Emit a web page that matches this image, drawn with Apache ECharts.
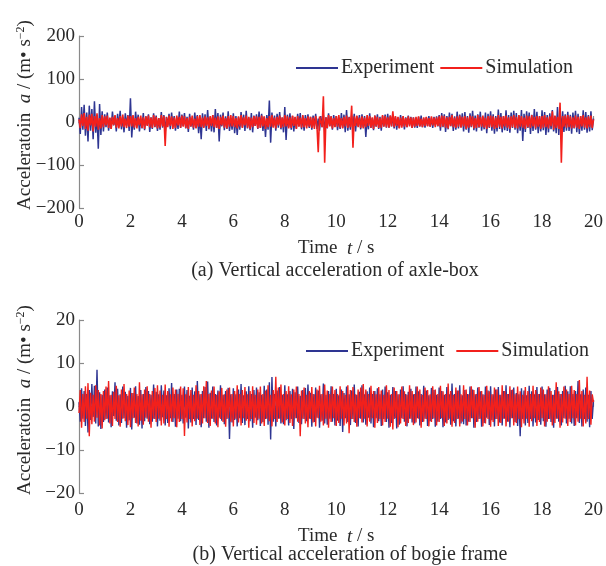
<!DOCTYPE html>
<html>
<head>
<meta charset="utf-8">
<script src="https://cdn.jsdelivr.net/npm/echarts@6/dist/echarts.min.js"></script>
<style>
  html, body { margin: 0; padding: 0; background: #fff; }
  #chart { width: 606px; height: 566px; }
</style>
</head>
<body>
<div id="chart"></div>
<script>
// Sample step of the recorded signals (s)
const STEP = 0.05;

// Axle-box vertical acceleration (m/s^2), one row per second
const axleExperiment = [
  10,-28,35,-18,40,-32,22,-45,38,-20,30,-40,48,-25,15,-62,42,-30,25,-22,
  18,-12,22,-20,9,-16,24,-8,14,-22,19,-11,26,-17,12,-24,20,-9,16,-21,
  55,-36,12,-18,24,-10,17,-22,8,-15,21,-19,13,-7,18,-23,11,-16,20,-12,
  15,-21,9,-18,23,-13,16,-25,12,-8,19,-17,22,-11,14,-20,10,-16,24,-14,
  17,-9,21,-15,12,-23,19,-11,8,-18,22,-14,16,-26,13,-40,20,-12,18,-21,
  28,-17,11,-22,16,-24,30,-13,21,-45,17,-10,22,-19,13,-16,25,-21,9,-18,
  20,-26,14,-30,11,-18,23,-12,17,-21,26,-15,10,-19,21,-24,15,-9,18,-16,
  24,-14,19,-21,12,-35,16,-18,50,-48,22,-11,15,-20,19,-13,23,-17,10,-24,
  35,-42,17,-12,20,-18,14,-22,11,-15,19,-10,21,-17,13,-20,16,-9,18,-14,
  12,-18,15,-10,19,-16,8,-20,14,-12,17,-22,11,-15,20,-9,13,-18,16,-11,
  14,-19,10,-16,21,-13,17,-24,28,-20,12,-18,15,-11,19,-22,13,-9,16,-17,
  18,-12,14,-35,11,-17,20,-14,9,-19,15,-11,18,-16,12,-20,14,-10,17,-13,
  19,-13,15,-10,17,-15,12,-18,10,-14,16,-9,13,-17,11,-12,15,-8,12,-14,
  11,-13,9,-14,12,-10,15,-12,8,-13,11,-9,14,-11,10,-14,12,-8,13,-10,
  16,-20,21,-12,18,-23,14,-17,22,-10,19,-21,13,-18,24,-15,17,-12,20,-22,
  23,-18,14,-25,20,-12,26,-19,15,-22,18,-13,24,-20,11,-17,22,-26,19,-14,
  25,-20,18,-27,14,-22,29,-16,21,-24,13,-19,27,-21,16,-25,22,-14,26,-18,
  21,-26,15,-20,28,-44,19,-23,25,-14,22,-28,17,-21,30,-18,24,-26,14,-22,
  27,-19,23,-30,16,-24,20,-17,28,-22,14,-26,35,-30,21,-16,25,-23,18,-20,
  24,-21,17,-27,22,-15,26,-24,19,-28,14,-20,27,-18,23,-25,16,-22,25,-19,
  8
];
const axleSimulation = [
  6,-14,18,-9,21,-16,12,-20,17,-8,19,-22,14,-11,20,-18,9,-15,16,-12,
  13,-8,15,-14,10,-16,12,-7,16,-13,9,-15,14,-10,17,-12,8,-14,15,-11,
  14,-10,16,-13,9,-15,12,-8,15,-14,11,-16,13,-9,15,-12,10,-14,16,-11,
  12,-15,9,-13,16,-10,14,-56,11,-12,15,-9,13,-16,10,-14,15,-8,12,-13,
  15,-11,13,-14,9,-16,12,-10,15,-13,8,-15,14,-11,16,-12,10,-14,13,-9,
  11,-15,14,-9,16,-12,10,-14,13,-16,12,-8,15,-13,9,-15,14,-11,16,-10,
  14,-12,9,-15,13,-10,16,-14,11,-8,15,-13,12,-16,10,-12,14,-9,13,-15,
  12,-14,15,-10,13,-16,9,-12,14,-11,16,-13,10,-15,12,-8,15,-14,11,-12,
  16,-10,13,-15,11,-14,15,-9,12,-16,14,-11,10,-13,16,-12,9,-15,13,-11,
  12,-14,10,-16,14,-9,-70,13,15,-12,60,-95,11,-14,16,-10,13,-15,9,-12,
  14,-11,16,-13,9,-15,12,-10,15,-14,11,-12,38,-60,13,-9,15,-12,10,-14,
  13,-15,10,-12,16,-9,14,-13,11,-16,15,-10,12,-14,9,-13,16,-11,14,-12,
  11,-13,15,-10,25,-12,14,-9,12,-15,10,-13,14,-11,9,-12,13,-10,11,-14,
  10,-11,12,-9,13,-10,8,-12,11,-9,12,-10,9,-11,13,-8,10,-12,11,-9,
  13,-12,15,-10,14,-13,11,-15,12,-9,16,-12,10,-14,13,-11,15,-13,12,-10,
  14,-16,11,-13,15,-10,13,-15,9,-14,16,-12,12,-11,15,-13,10,-16,14,-12,
  15,-12,13,-16,10,-14,16,-11,12,-15,14,-10,15,-13,11,-16,13,-12,16,-14,
  12,-15,16,-11,14,-13,10,-16,15,-12,13,-14,16,-10,12,-15,14,-11,13,-16,
  14,-13,16,-12,11,-15,13,-10,25,-18,15,-14,12,-16,45,-95,14,-11,15,-13,
  16,-12,13,-15,11,-14,15,-13,12,-16,14,-10,16,-13,11,-15,13,-12,15,-14,
  6
];

// Bogie frame vertical acceleration (m/s^2), one row per second
const bogieExperiment = [
  1,-3.5,4.2,-2.8,3.6,-4.5,2.9,-6,3.8,-3.1,5.2,-2.4,4.8,-3.9,8.5,-4.6,3.3,-5.2,2.7,-3.6,
  3.9,-2.9,4.4,-3.7,2.6,-4.8,3.5,-2.2,5.6,-3.3,4.1,-4.4,2.8,-3.8,4.6,-2.7,3.4,-4.9,2.5,-3.2,
  4.3,-5.3,3.1,-2.6,4.7,-3.9,2.4,-4.2,3.8,-5.1,2.9,-3.4,4.5,-2.8,3.6,-4.1,2.7,-3.5,5.1,-2.9,
  3.4,-4.6,2.8,-3.3,4.9,-2.5,3.7,-4.4,2.6,-3.8,4.2,-2.7,5.4,-3.6,2.9,-4.7,3.9,-2.8,4.1,-3.4,
  2.7,-3.9,4.6,-2.6,3.8,-5.1,2.5,-3.7,4.4,-2.9,3.5,-4.3,5.9,-3.1,2.8,-4.8,3.6,-2.7,4.5,-3.5,
  5.8,-4.9,3.2,-2.8,4.6,-3.6,2.9,-4.4,3.7,-2.6,4.9,-3.3,2.7,-4.1,3.6,-2.9,4.3,-7.5,2.8,-3.7,
  4.2,-3.1,2.8,-4.6,3.9,-2.7,5.2,-3.8,2.6,-4.3,3.5,-2.9,4.7,-3.4,2.9,-4.9,3.8,-2.6,4.4,-3.2,
  3.3,-4.5,2.7,-3.6,4.8,-2.9,3.9,-4.2,5.6,-7.6,6.8,-3.5,2.9,-4.6,3.7,-2.8,4.5,-3.9,2.7,-4.1,
  4.9,-3.2,2.8,-4.4,3.6,-2.9,4.1,-5.2,3.3,-2.7,4.6,-3.8,2.5,-4.1,3.8,-2.9,4.3,-3.4,5.1,-2.8,
  3.2,-4.7,2.9,-3.6,4.4,-2.6,3.7,-4.9,2.8,-3.3,5.3,-3.9,2.7,-4.2,3.6,-2.8,4.7,-3.5,2.9,-4.4,
  4.1,-3.3,2.6,-4.5,3.9,-5.9,3.1,-2.7,4.6,-3.6,2.8,-4.3,3.7,-2.9,5.1,-3.8,2.7,-4.6,3.4,-2.8,
  4.9,-3.7,2.8,-4.2,3.5,-2.6,4.4,-3.9,2.9,-4.8,3.6,-2.7,4.2,-3.4,2.8,-4.5,3.9,-2.9,4.6,-3.6,
  3.3,-4.9,2.7,-3.8,4.5,-2.9,3.6,-5.1,2.8,-4.2,3.9,-2.7,4.7,-3.5,2.9,-4.6,3.4,-2.8,4.1,-3.7,
  2.8,-3.9,4.6,-2.7,3.5,-4.4,2.9,-3.6,4.8,-2.8,3.7,-4.5,2.6,-3.4,4.3,-2.9,3.8,-4.7,2.7,-3.5,
  4.4,-2.9,3.6,-4.8,2.7,-3.7,4.5,-3.1,2.8,-4.2,5.3,-3.4,2.9,-4.6,3.7,-2.8,4.9,-3.9,2.6,-4.1,
  3.8,-4.4,2.9,-3.5,4.6,-2.7,3.9,-4.9,2.8,-3.6,4.4,-2.9,3.5,-4.7,2.8,-3.8,4.6,-2.6,3.7,-4.3,
  4.7,-3.2,2.8,-4.6,3.9,-2.9,4.5,-3.7,2.7,-4.4,3.6,-2.8,4.9,-3.5,2.9,-4.8,3.8,-2.7,4.4,-3.6,
  3.1,-4.5,2.8,-6.9,4.2,-2.9,3.7,-4.4,2.6,-3.8,4.8,-2.9,3.5,-4.6,2.8,-3.7,4.5,-3.1,2.9,-4.2,
  4.6,-3.4,2.8,-4.7,3.9,-2.9,4.3,-3.6,2.7,-4.9,3.8,-2.8,4.5,-3.5,2.9,-4.4,3.6,-2.7,4.8,-3.9,
  3.5,-2.8,4.7,-3.9,2.9,-4.5,3.6,-2.7,5.9,-3.8,2.8,-4.6,3.9,-2.9,4.4,-3.5,2.7,-4.8,3.6,-2.9,
  1.5
];
const bogieSimulation = [
  -1.5,3.8,-4.9,2.9,-3.6,4.7,-2.8,5.4,-6.9,3.2,-4.1,2.7,-3.5,4.9,-2.6,3.8,-4.4,2.9,-5.1,3.6,
  -3.2,4.6,-2.8,5.9,-3.9,2.7,-4.5,3.4,-2.9,4.8,-3.6,2.6,-4.7,3.9,-2.8,5.2,-3.4,2.9,-4.3,3.7,
  -4.8,3.1,-2.7,4.4,-3.8,2.9,-4.6,5.6,-3.3,2.8,-4.2,3.9,-2.6,4.7,-3.5,2.9,-4.9,3.6,-2.8,4.3,
  -3.6,4.9,-2.8,3.7,-4.4,2.7,-3.9,5.1,-2.9,3.6,-4.7,2.8,-3.5,4.4,-2.7,3.9,-4.8,2.9,-3.6,4.6,
  -2.9,4.2,-6.8,2.8,-3.7,4.5,-2.9,3.8,-4.6,2.7,-3.4,4.9,-2.8,3.6,-4.3,2.9,-3.9,4.7,-2.7,5.9,
  -3.8,2.9,-4.5,3.7,-2.8,4.6,-3.9,2.7,-4.8,3.5,-2.9,4.3,-3.6,2.8,-4.7,3.9,-2.7,4.4,-3.5,2.9,
  -4.6,3.6,-2.8,4.9,-3.7,2.9,-4.4,3.8,-2.7,4.5,-3.3,2.8,-4.9,3.6,-2.9,4.7,-3.8,2.7,-4.2,3.9,
  -2.8,4.6,-3.9,2.9,-4.5,3.7,-2.8,4.9,-3.4,2.7,-4.6,3.8,-2.9,6.9,-3.6,4.4,-2.8,5.1,-3.7,2.9,
  -4.4,3.6,-2.9,4.7,-3.8,2.8,-4.5,3.9,-2.7,4.6,-3.5,2.9,-6.9,3.7,-2.8,4.4,-3.9,2.7,-4.8,3.6,
  -2.9,4.5,-3.7,2.8,-4.6,3.9,-2.7,4.8,-3.5,2.9,-4.4,5.1,-2.8,3.7,-4.9,2.9,-3.6,4.6,-2.7,3.8,
  -4.5,2.9,-3.8,4.7,-2.8,3.6,-4.4,2.7,-3.9,4.9,-6.2,3.8,-2.9,4.5,-3.6,2.8,-4.7,3.9,-2.7,4.4,
  -3.7,5.2,-2.8,3.9,-4.6,2.9,-3.5,4.8,-2.7,3.6,-4.9,2.8,-3.8,4.5,-2.9,3.7,-4.4,2.7,-3.6,4.9,
  -2.8,3.8,-4.7,2.9,-5.3,4.4,-2.7,3.6,-4.8,2.8,-3.9,4.6,-2.9,3.5,-4.5,2.7,-3.8,4.9,-2.8,3.6,
  -4.3,2.9,-3.7,4.6,-2.8,3.9,-4.9,2.7,-3.5,4.4,-2.9,3.8,-4.6,2.8,-3.6,4.7,-2.7,3.9,-4.4,2.9,
  -3.6,4.8,-2.7,3.5,-4.5,2.9,-3.9,5.3,-2.8,3.6,-4.7,2.7,-3.8,4.4,-2.9,3.7,-4.6,2.8,-3.5,4.9,
  -2.9,3.9,-4.4,2.8,-3.6,4.7,-2.7,3.8,-4.9,2.9,-3.5,4.5,-2.8,3.6,-4.6,2.7,-3.9,4.8,-2.9,3.5,
  -4.7,2.8,-3.6,4.4,-2.9,3.9,-4.5,2.7,-3.8,4.9,-2.8,3.6,-4.6,2.9,-3.5,4.7,-2.7,3.9,-4.4,2.8,
  -3.8,4.6,-2.9,3.5,-4.8,2.7,-3.9,4.5,-2.8,3.6,-4.7,2.9,-3.4,4.8,-2.7,3.8,-4.5,2.9,-3.6,4.4,
  -2.7,3.9,-4.6,2.8,-3.5,4.7,-2.9,3.6,-4.4,2.7,-3.8,5.6,-2.8,3.5,-4.9,2.9,-3.7,4.6,-2.8,3.9,
  -4.5,2.9,-3.6,4.8,-2.7,3.8,-4.4,2.9,-3.5,6.1,-2.8,3.6,-4.6,2.7,-3.9,6.9,-2.9,3.7,-4.2,2.8,
  1
];

// Axis ticks
const timeTicks = { min: 0, max: 20, interval: 2 };
const axleTicks = { min: -200, max: 200, interval: 100 };
const bogieTicks = { min: -20, max: 20, interval: 10 };

const seriesNames = ['Experiment', 'Simulation'];
const captions = ['(a) Vertical acceleration of axle-box', '(b) Vertical acceleration of bogie frame'];

const FONT = "'Liberation Serif', 'Times New Roman', serif";
const BLUE = '#2e3592';
const RED = '#f2201c';
const AXIS = '#8a8a8a';
const TEXT = '#2a2a2a';

function pairs(values) {
  return values.map((v, i) => [+(i * STEP).toFixed(2), v]);
}
const minus = v => String(v).replace('-', '\u2212');

function xAxisFor(gridIndex, margin) {
  return {
    type: 'value', gridIndex,
    min: timeTicks.min, max: timeTicks.max, interval: timeTicks.interval,
    axisLine: { show: true, lineStyle: { color: AXIS, width: 1.2 } },
    axisTick: { show: true, inside: true, length: 6, lineStyle: { color: AXIS, width: 1.2 } },
    axisLabel: { color: TEXT, fontFamily: FONT, fontSize: 19, margin, formatter: minus },
    splitLine: { show: false },
    name: '{n|Time  }{i|t}{n| / s}',
    nameLocation: 'middle', nameGap: margin + 26,
    nameTextStyle: {
      rich: {
        n: { fontFamily: FONT, fontSize: 19, color: TEXT },
        i: { fontFamily: FONT, fontSize: 19, color: TEXT, fontStyle: 'italic' }
      }
    }
  };
}
function yAxisFor(gridIndex, t) {
  return {
    type: 'value', gridIndex,
    min: t.min, max: t.max, interval: t.interval,
    axisLine: { show: true, lineStyle: { color: AXIS, width: 1.2 } },
    axisTick: { show: true, inside: true, length: 5, lineStyle: { color: AXIS, width: 1.2 } },
    axisLabel: { color: TEXT, fontFamily: FONT, fontSize: 19, margin: 4, formatter: minus },
    splitLine: { show: false }
  };
}
function lineSeries(name, values, idx, color, width, z) {
  return {
    name, type: 'line', xAxisIndex: idx, yAxisIndex: idx,
    data: pairs(values), showSymbol: false, symbol: 'none',
    sampling: null,
    lineStyle: { color, width }, itemStyle: { color },
    animation: false, z, silent: true
  };
}
function yName(x, y) {
  return {
    type: 'text', x, y, rotation: Math.PI / 2,
    style: {
      text: '{n|Acceleratoin  }{i|a}{n| / (m\u2022 s}{s|\u22122}{n|)}',
      align: 'center', verticalAlign: 'middle',
      rich: {
        n: { fontFamily: FONT, fontSize: 19, fill: TEXT },
        i: { fontFamily: FONT, fontSize: 19, fill: TEXT, fontStyle: 'italic' },
        s: { fontFamily: FONT, fontSize: 12, fill: TEXT, padding: [0, 0, 9, 0] }
      }
    }
  };
}
function caption(text, x, y) {
  return {
    type: 'text', x, y,
    style: { text, fontFamily: FONT, fontSize: 20, fill: TEXT, align: 'center', verticalAlign: 'middle' }
  };
}
function legendFor(left, top, gap) {
  return {
    left, top, orient: 'horizontal', itemGap: gap,
    itemWidth: 42, itemHeight: 2, icon: 'rect',
    textStyle: { fontFamily: FONT, fontSize: 20, color: TEXT, padding: [0, 0, 0, -2] },
    selectedMode: false,
    data: seriesNames.map(n => ({ name: n }))
  };
}

const chart = echarts.init(document.getElementById('chart'), null, { renderer: 'canvas' });
chart.setOption({
  backgroundColor: '#ffffff',
  animation: false,
  grid: [
    { left: 79, right: 9, top: 36, height: 172 },
    { left: 79, right: 9, top: 320, height: 173 }
  ],
  xAxis: [xAxisFor(0, 5), xAxisFor(1, 8)],
  yAxis: [yAxisFor(0, axleTicks), yAxisFor(1, bogieTicks)],
  legend: [legendFor(291, 53, 6), legendFor(301, 336, 12)],
  series: [
    lineSeries(seriesNames[0], axleExperiment, 0, BLUE, 1.5, 2),
    lineSeries(seriesNames[1], axleSimulation, 0, RED, 1.6, 3),
    lineSeries(seriesNames[0], bogieExperiment, 1, BLUE, 1.4, 2),
    lineSeries(seriesNames[1], bogieSimulation, 1, RED, 1.4, 3)
  ],
  graphic: [
    yName(25, 115),
    yName(25, 400),
    caption(captions[0], 335, 271),
    caption(captions[1], 350, 555)
  ]
});
</script>
</body>
</html>
